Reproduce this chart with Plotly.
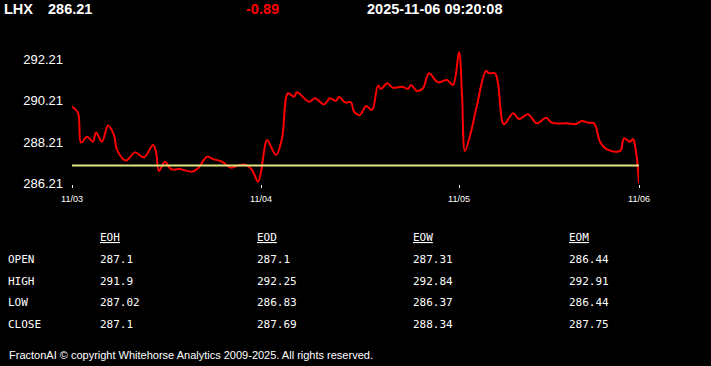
import plotly.graph_objects as go

W, H = 711, 366

# ---- data ----
symbol = "LHX"
last_price = "286.21"
change = "-0.89"
timestamp = "2025-11-06 09:20:08"

bars = [0, 2, 3, 5, 7, 8, 10, 12, 14, 15, 18, 21, 24, 27, 28, 29, 31, 33, 36, 40, 42, 45, 47,
        50, 53, 56, 58, 60, 62, 63, 64, 65, 68, 70, 72, 74, 75, 79, 81, 84, 86, 88, 89, 91, 93,
        94, 96, 98, 100, 102, 103, 105, 107, 110, 112, 113, 115, 117, 119, 122, 125, 127,
        129, 130, 131, 133, 135, 138, 139, 141, 142, 144, 147, 149, 152, 155, 158, 160, 165,
        168, 170, 172, 174, 176, 178, 182, 183, 184, 186, 187, 188, 189]
prices = [289.93, 289.62, 288.18, 288.47, 288.23, 288.67, 288.23, 289.01, 288.55, 287.83,
          287.31, 287.71, 287.47, 288.07, 287.74, 286.81, 287.26, 286.90, 286.90, 286.77,
          286.94, 287.50, 287.39,
          287.26, 286.97, 287.10, 287.10, 286.86, 286.29, 286.77, 287.74, 288.31, 287.58,
          288.39, 290.58, 290.41, 290.63, 290.17, 290.34, 290.04, 290.34, 290.21, 290.41,
          290.14, 290.14,
          289.69, 289.53, 289.96, 289.77, 290.95, 290.79, 291.06, 290.85, 290.90, 290.79,
          290.98, 290.69, 290.82, 291.55, 291.11, 291.22, 290.98,
          292.57, 290.50, 287.78, 288.71, 290.01, 291.66, 291.55, 291.55, 291.06, 289.07,
          289.61, 289.33, 289.56, 289.12, 289.39, 289.15, 289.12,
          289.09, 289.23, 289.15, 289.12, 288.23, 287.88, 287.74, 287.83, 288.39, 288.23,
          288.36, 287.74, 286.21]
ref_price = 287.07

day_ticks = [0, 63, 129, 189]
day_labels = ["11/03", "11/04", "11/05", "11/06"]
y_ticks = [286.21, 288.21, 290.21, 292.21]

row_labels = ["OPEN", "HIGH", "LOW", "CLOSE"]
col_names = ["EOH", "EOD", "EOW", "EOM"]
eoh = ["287.1", "291.9", "287.02", "287.1"]
eod = ["287.1", "292.25", "286.83", "287.69"]
eow = ["287.31", "292.84", "286.37", "288.34"]
eom = ["286.44", "292.91", "286.44", "287.75"]
footer = "FractonAI \u00a9 copyright Whitehorse Analytics 2009-2025. All rights reserved."

# ---- figure ----
fig = go.Figure()
fig.add_trace(go.Scatter(x=bars, y=prices, mode="lines",
                         line=dict(color="#ff0000", width=2, shape="spline", smoothing=1.0),
                         hoverinfo="skip"))
fig.add_trace(go.Scatter(x=[bars[0], bars[-1]], y=[ref_price, ref_price], mode="lines",
                         line=dict(color="#dfe680", width=2), hoverinfo="skip"))


def px(x):
    return x / W


def py(y):
    return 1 - y / H


ann = []
hdr_font = dict(family="Liberation Sans, Arial", size=14.5, color="white", weight="bold")
ann.append(dict(text=symbol, x=px(3), y=py(9), font=hdr_font))
ann.append(dict(text=last_price, x=px(47), y=py(9), font=hdr_font))
ann.append(dict(text=change, x=px(245), y=py(9), font=dict(hdr_font, color="#ff0000")))
ann.append(dict(text=timestamp, x=px(366), y=py(9), font=hdr_font))

mono = dict(family="DejaVu Sans Mono, Liberation Mono, monospace", size=11, color="white")
col_x = [99, 255.5, 411.5, 568]
row_y = [259.5, 281, 302.5, 324]
for cx, name, vals in zip(col_x, col_names, [eoh, eod, eow, eom]):
    ann.append(dict(text="<u>" + name + "</u>", x=px(cx), y=py(238), font=mono))
    for ry, v in zip(row_y, vals):
        ann.append(dict(text=v, x=px(cx), y=py(ry), font=mono))
for ry, lab in zip(row_y, row_labels):
    ann.append(dict(text=lab, x=px(6.5), y=py(ry), font=mono))

ann.append(dict(text=footer, x=px(8), y=py(355),
                font=dict(family="Liberation Sans, Arial", size=11, color="white")))

for a in ann:
    a.update(xref="paper", yref="paper", xanchor="left", yanchor="middle",
             showarrow=False, borderpad=0)

fig.update_layout(
    width=W, height=H,
    margin=dict(l=0, r=0, t=0, b=0, autoexpand=False),
    paper_bgcolor="black", plot_bgcolor="black",
    showlegend=False,
    annotations=ann,
    xaxis=dict(domain=[72 / W, 639 / W], range=[0, 189], showgrid=False, zeroline=False,
               showline=False, tickmode="array", tickvals=day_ticks, ticktext=day_labels,
               ticks="outside", ticklen=3, tickwidth=1, tickcolor="white",
               tickfont=dict(family="Liberation Sans, Arial", size=9, color="white"),
               ticklabelstandoff=3, fixedrange=True, automargin=False),
    yaxis=dict(domain=[py(184.1), py(43.4)], range=[286.17, 293.0], showgrid=False,
               zeroline=False, showline=False, tickmode="array", tickvals=y_ticks,
               ticktext=[f"{v:.2f}" for v in y_ticks],
               tickfont=dict(family="Liberation Sans, Arial", size=13, color="white"),
               ticks="", ticklabelstandoff=8, fixedrange=True, automargin=False),
)

fig.write_html("out.html")
